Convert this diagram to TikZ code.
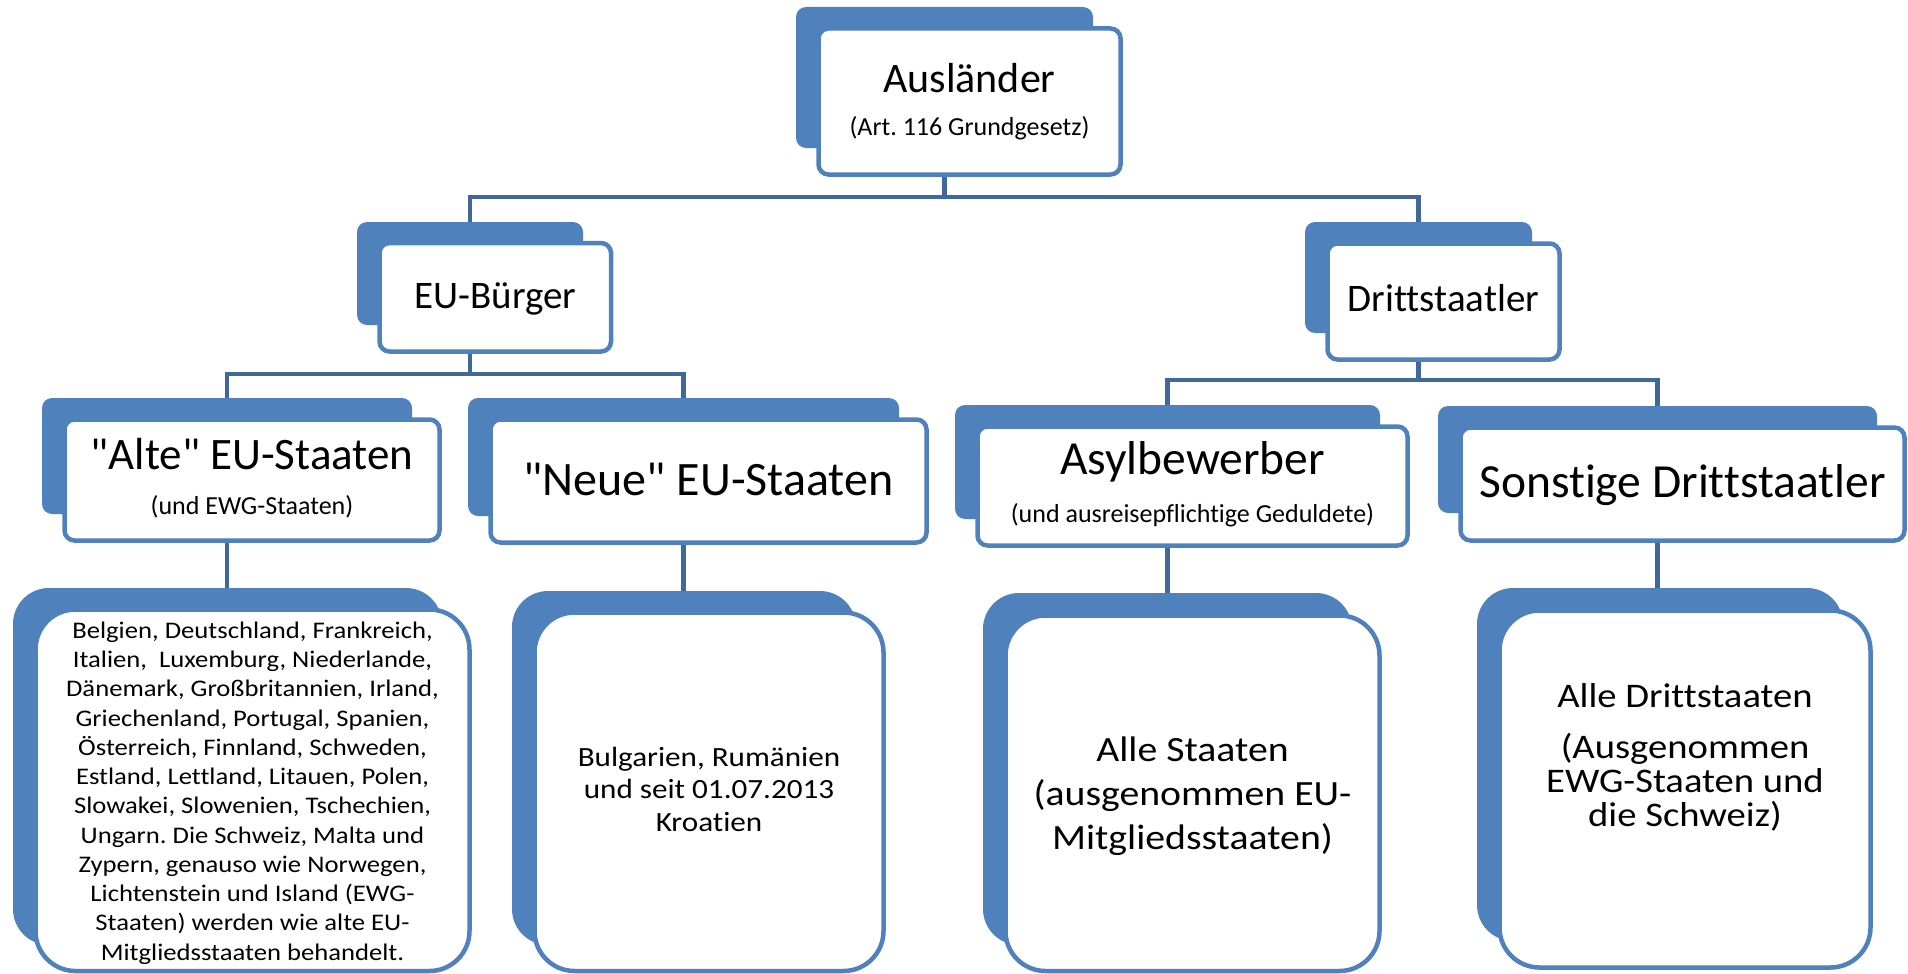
\documentclass[tikz,border=0pt]{standalone}
\usepackage{fontspec}
\setmainfont{Carlito}
\newfontfamily\calfam{Carlito}[RawFeature={-liga}]
\newfontfamily\widecal{Carlito}[FakeStretch=1.12,RawFeature={-liga}]
\frenchspacing
\pgfdeclarelayer{bg}
\pgfsetlayers{bg,main}
\definecolor{accent}{RGB}{79,129,189}
\definecolor{linkc}{RGB}{64,104,156}
\newcommand{\Tup}[1]{\rule{0pt}{#1pt}}
\newcommand{\Tdn}[1]{\rule[-#1pt]{0pt}{#1pt}}
\begin{document}
\begin{tikzpicture}[x=1pt,y=-1pt,
  backbox/.style={fill=accent, rounded corners=10pt, inner sep=0pt, outer sep=0pt},
  frontbox/.style={draw=accent, fill=white, line width=4.5pt, rounded corners=10pt, inner sep=0pt, outer sep=0pt, align=center, text=black},
  bigback/.style={backbox, rounded corners=36pt},
  bigfront/.style={frontbox, rounded corners=40pt},
  conn/.style={draw=linkc, line width=4.5pt}]
\useasboundingbox (0,0) rectangle (1908,974);

% back plates
\node[backbox, minimum width=297pt, minimum height=141pt] (b0) at (944.5,77.5) {};
\node[backbox, minimum width=226pt, minimum height=103pt] (b1) at (470,273.5) {};
\node[backbox, minimum width=227pt, minimum height=111pt] (b2) at (1418.5,277.5) {};
\node[backbox, minimum width=370pt, minimum height=116pt] (b3) at (227,456) {};
\node[backbox, minimum width=431pt, minimum height=118pt] (b4) at (683.5,457) {};
\node[backbox, minimum width=425pt, minimum height=114pt] (b5) at (1167.5,462) {};
\node[backbox, minimum width=439pt, minimum height=107pt] (b6) at (1657.5,459.5) {};
\node[bigback, minimum width=429pt, minimum height=357pt] (b7) at (227.5,766.5) {};
\node[bigback, minimum width=344pt, minimum height=354pt] (b8) at (684,768) {};
\node[bigback, minimum width=369pt, minimum height=352pt] (b9) at (1167.5,769) {};
\node[bigback, minimum width=366pt, minimum height=353pt] (b10) at (1660,764.5) {};

% front boxes
\node[frontbox, minimum width=302pt, minimum height=146pt, font=\calfam\fontsize{26}{43}\selectfont] (f0) at (969.5,101.5)
  {\Tup{34}{\fontsize{42}{43}\selectfont Ausländer}\\(Art. 116 Grundgesetz)\Tdn{10}};
\node[frontbox, minimum width=231.5pt, minimum height=108.5pt, font=\calfam\fontsize{39}{47}\selectfont] (f1) at (495.25,297.25)
  {\Tup{33.5}EU-Bürger\Tdn{12}};
\node[frontbox, minimum width=232pt, minimum height=116pt, font=\calfam\fontsize{39}{47}\selectfont] (f2) at (1443.5,301.5)
  {\Tup{32.4}Drittstaatler\Tdn{12}};
\node[frontbox, minimum width=375pt, minimum height=121pt, font=\calfam\fontsize{26}{44.7}\selectfont] (f3) at (252,480)
  {\Tup{35.3}{\fontsize{45}{45}\selectfont "Alte" EU-Staaten}\\(und EWG-Staaten)\Tdn{12}};
\node[frontbox, minimum width=436pt, minimum height=123pt, font=\calfam\fontsize{48}{58}\selectfont] (f4) at (708.5,481)
  {\Tup{42}"Neue" EU-Staaten\Tdn{14}};
\node[frontbox, minimum width=430pt, minimum height=119pt, font=\calfam\fontsize{26}{48.7}\selectfont] (f5) at (1192.5,486)
  {\Tup{36.7}{\fontsize{47.5}{48}\selectfont Asylbewerber}\\(und ausreisepflichtige Geduldete)\Tdn{12}};
\node[frontbox, minimum width=444pt, minimum height=113pt, font=\calfam\fontsize{47.5}{57}\selectfont] (f6) at (1682.5,484)
  {\Tup{40.6}Sonstige Drittstaatler\Tdn{14}};
\node[bigfront, minimum width=434pt, minimum height=361.5pt, font=\widecal\fontsize{23.8}{29.25}\selectfont] (f7) at (252.5,790.25)
  {\Tup{25.85}Belgien, Deutschland, Frankreich,\\Italien,\ \ Luxemburg, Niederlande,\\Dänemark, Großbritannien, Irland,\\Griechenland, Portugal, Spanien,\\Österreich, Finnland, Schweden,\\Estland, Lettland, Litauen, Polen,\\Slowakei, Slowenien, Tschechien,\\Ungarn. Die Schweiz, Malta und\\Zypern, genauso wie Norwegen,\\Lichtenstein und Island (EWG-\\Staaten) werden wie alte EU-\\Mitgliedsstaaten behandelt.\Tdn{8}};
\node[bigfront, minimum width=349pt, minimum height=358.5pt, font=\widecal\fontsize{27.8}{32.2}\selectfont] (f8) at (709,791.75)
  {\Tup{24.3}Bulgarien, Rumänien\\und seit 01.07.2013\\Kroatien\Tdn{10}};
\node[bigfront, minimum width=374pt, minimum height=355.5pt, font=\widecal\fontsize{35.5}{43.8}\selectfont] (f9) at (1192.5,793.25)
  {\Tup{36.5}Alle Staaten\\(ausgenommen EU-\\Mitgliedsstaaten)\Tdn{12}};
\node[bigfront, minimum width=371pt, minimum height=357pt, font=\widecal\fontsize{34.5}{34.2}\selectfont] (f10) at (1685,789)
  {\Tup{30}Alle Drittstaaten\\[16.8pt](Ausgenommen\\EWG-Staaten und\\die Schweiz)\Tdn{74}};

% connectors
\begin{pgfonlayer}{bg}
\coordinate (bus0) at (0,197);
\coordinate (bus1) at (0,374);
\coordinate (bus2) at (0,380);
\draw[conn] (b0.center) |- (b1.center |- bus0) -- (b1.center);
\draw[conn] (b0.center) |- (b2.center |- bus0) -- (b2.center);
\draw[conn] (b1.center) |- (b3.center |- bus1) -- (b3.center);
\draw[conn] (b1.center) |- (b4.center |- bus1) -- (b4.center);
\draw[conn] (b2.center) |- (b5.center |- bus2) -- (b5.center);
\draw[conn] (b2.center) |- (b6.center |- bus2) -- (b6.center);
\draw[conn] (b3.center) -- (b3.center |- b7.center);
\draw[conn] (b4.center) -- (b4.center |- b8.center);
\draw[conn] (b5.center) -- (b5.center |- b9.center);
\draw[conn] (b6.center) -- (b6.center |- b10.center);
\end{pgfonlayer}
\end{tikzpicture}
\end{document}
